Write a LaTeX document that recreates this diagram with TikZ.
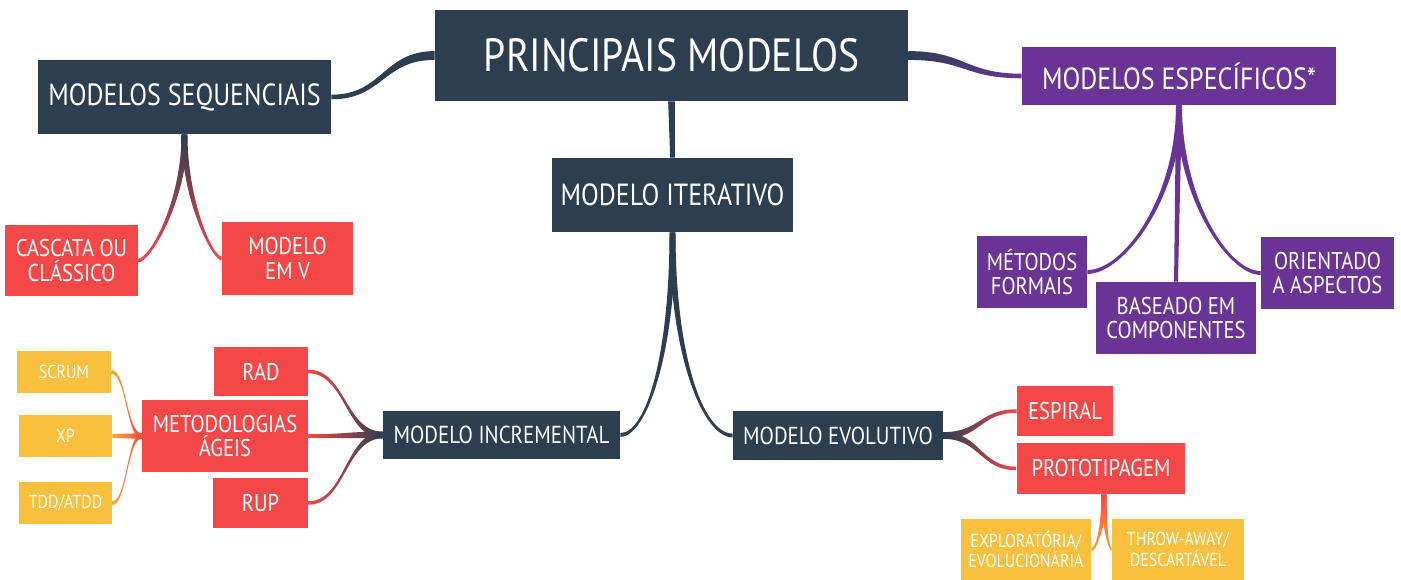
\documentclass[tikz,border=0pt]{standalone}
\usepackage{fontspec}
\setmainfont{PT Sans}[FakeStretch=0.85]
\usetikzlibrary{calc,backgrounds}
\definecolor{navy}{RGB}{44,62,80}
\definecolor{cred}{RGB}{244,71,71}
\definecolor{cpur}{RGB}{106,52,150}
\definecolor{cyel}{RGB}{248,192,60}
\definecolor{corg}{RGB}{249,168,56}
\newcommand\fRoot{\fontsize{26.5}{30}\selectfont}
\newcommand\fA{\fontsize{17.4}{20}\selectfont}
\newcommand\fB{\fontsize{14}{16}\selectfont}
\newcommand\fC{\fontsize{13.8}{13.8}\selectfont}
\newcommand\fD{\fontsize{10.7}{9.6}\selectfont}
% horizontal S connector: parent, child, parent half width, child half width, options
\newcommand\hconn[5]{%
  \path[#5] let \p1=#1, \p2=#2 in
   (\x1,{\y1+#3}) .. controls ({0.5*\x1+0.5*\x2},{\y1+#3}) and ({0.5*\x1+0.5*\x2},{\y2+#4}) .. (\x2,{\y2+#4})
   -- (\x2,{\y2-#4}) .. controls ({0.5*\x1+0.5*\x2},{\y2-#4}) and ({0.5*\x1+0.5*\x2},{\y1-#3}) .. (\x1,{\y1-#3}) -- cycle;}
% vertical start, horizontal end: parent, child, signed parent half width, child half width, f, k, options
\newcommand\vconn[7]{%
  \path[#7] let \p1=#1, \p2=#2 in
   ({\x1+(#3)},\y1) .. controls ({\x1+(#3)},{\y1+#5*(\y2-\y1)}) and ({\x1+#6*(\x2-\x1)},{\y2+#4}) .. (\x2,{\y2+#4})
   -- (\x2,{\y2-#4}) .. controls ({\x1+#6*(\x2-\x1)},{\y2-#4}) and ({\x1-(#3)},{\y1+#5*(\y2-\y1)}) .. ({\x1-(#3)},\y1) -- cycle;}
% straight vertical tapered connector
\newcommand\sconn[5]{%
  \path[#5] let \p1=#1, \p2=#2 in
   ({\x1-#3},\y1) -- ({\x2-#4},\y2) -- ({\x2+#4},\y2) -- ({\x1+#3},\y1) -- cycle;}
\tikzset{
  sz/.style 2 args={minimum width=#1*0.02cm, minimum height=#2*0.02cm},
  base/.style={rectangle, inner sep=0pt, text=white, align=center, font=\fC},
  navbox/.style={base, fill=navy},
  redbox/.style={base, fill=cred},
  purbox/.style={base, fill=cpur},
  yelbox/.style={base, fill=cyel, font=\fD},
}
\begin{document}
\begin{tikzpicture}[x=0.02cm, y=-0.02cm]
\useasboundingbox (0,0) rectangle (1401,579);

\node[navbox, sz={473}{91}, font=\fRoot] (root) at (671.5,55.5) {PRINCIPAIS MODELOS};
\node[navbox, sz={293}{74}, font=\fA] (seq) at (184.5,97) {MODELOS SEQUENCIAIS};
\node[navbox, sz={241}{74}, font=\fA] (iter) at (672.5,195) {MODELO ITERATIVO};
\node[purbox, sz={314}{58}, font=\fA] (esp) at (1179,76) {MODELOS ESPECÍFICOS*};
\node[redbox, sz={133}{71}] (casc) at (71.5,260.5) {CASCATA OU\\CLÁSSICO};
\node[redbox, sz={131}{73}] (emv) at (287.5,258.5) {MODELO\\EM V};
\node[purbox, sz={110}{72}] (met) at (1032,272) {MÉTODOS\\FORMAIS};
\node[purbox, sz={160}{72}] (bas) at (1176,318) {BASEADO EM\\COMPONENTES};
\node[purbox, sz={133}{72}] (ori) at (1327.5,273) {ORIENTADO\\A ASPECTOS};
\node[yelbox, sz={94}{42}] (scrum) at (64,372) {SCRUM};
\node[yelbox, sz={93}{42}] (xp) at (65.5,436) {XP};
\node[yelbox, sz={93}{42}] (tdd) at (65.5,503) {TDD/ATDD};
\node[redbox, sz={166}{72}] (agil) at (225,436) {METODOLOGIAS\\ÁGEIS};
\node[redbox, sz={94}{49}] (rad) at (261,371.5) {RAD};
\node[redbox, sz={95}{50}] (rup) at (260.5,503) {RUP};
\node[navbox, sz={237}{48}, font=\fB] (incr) at (501.5,435) {MODELO INCREMENTAL};
\node[navbox, sz={210}{49}, font=\fB] (evol) at (838,435.5) {MODELO EVOLUTIVO};
\node[redbox, sz={96}{50}] (espi) at (1065,411) {ESPIRAL};
\node[redbox, sz={168}{51}] (proto) at (1101,468.5) {PROTOTIPAGEM};
\node[yelbox, sz={130}{61}] (expl) at (1026,549.5) {EXPLORATÓRIA/\\EVOLUCIONÁRIA};
\node[yelbox, sz={132}{61}] (throw) at (1178,549.5) {THROW-AWAY/\\DESCARTÁVEL};

\begin{scope}[on background layer]
\fill[white] (0,0) rectangle (1401,579);
\hconn{(root.west)}{(seq.east)}{2.5pt}{1.3pt}{fill=navy}
\hconn{(root.east)}{(esp.west)}{2.5pt}{1.3pt}{left color=navy, middle color=navy, right color=cpur}
\sconn{(root.south)}{(iter.north)}{1.9pt}{1.3pt}{fill=navy}
\vconn{(iter.south)}{(incr.east)}{-1.7pt}{1.1pt}{0.6}{0.5}{fill=navy}
\vconn{(iter.south)}{(evol.west)}{1.7pt}{1.1pt}{0.6}{0.5}{fill=navy}
\vconn{(seq.south)}{(casc.east)}{-1.7pt}{1.1pt}{0.53}{0.75}{top color=navy, bottom color=cred}
\vconn{(seq.south)}{(emv.west)}{1.7pt}{1.1pt}{0.53}{0.75}{top color=navy, bottom color=cred}
\vconn{(esp.south)}{(met.east)}{-1.7pt}{1.1pt}{0.55}{0.6}{fill=cpur}
\vconn{(esp.south)}{(ori.west)}{1.7pt}{1.1pt}{0.55}{0.6}{fill=cpur}
\sconn{(esp.south)}{(bas.north)}{1.7pt}{1.1pt}{fill=cpur}
\hconn{(incr.west)}{(rad.east)}{1.9pt}{1.0pt}{left color=cred, right color=navy}
\hconn{(incr.west)}{(agil.east)}{1.9pt}{1.0pt}{left color=cred, right color=navy}
\hconn{(incr.west)}{(rup.east)}{1.9pt}{1.0pt}{left color=cred, right color=navy}
\hconn{(agil.west)}{(scrum.east)}{1.6pt}{1.1pt}{left color=corg, middle color=corg, right color=cred}
\hconn{(agil.west)}{(xp.east)}{1.6pt}{1.1pt}{left color=corg, middle color=corg, right color=cred}
\hconn{(agil.west)}{(tdd.east)}{1.6pt}{1.1pt}{left color=corg, middle color=corg, right color=cred}
\hconn{(evol.east)}{(espi.west)}{1.9pt}{1.0pt}{left color=navy, right color=cred}
\hconn{(evol.east)}{(proto.west)}{1.9pt}{1.0pt}{left color=navy, right color=cred}
\vconn{($(proto.south)+(3,0)$)}{(expl.east)}{-1.5pt}{1.0pt}{0.55}{0.6}{top color=cred, bottom color=corg}
\vconn{($(proto.south)+(3,0)$)}{(throw.west)}{1.5pt}{1.0pt}{0.55}{0.6}{top color=cred, bottom color=corg}
\end{scope}
\end{tikzpicture}
\end{document}
